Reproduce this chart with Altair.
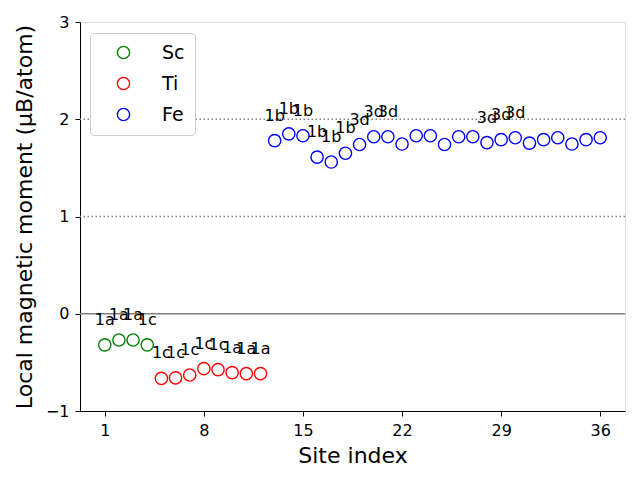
import altair as alt
import pandas as pd

sites = list(range(1, 37))
elements = ["Sc"] * 4 + ["Ti"] * 8 + ["Fe"] * 24
moments = [
    -0.32, -0.27, -0.27, -0.32,
    -0.665, -0.66, -0.63, -0.565, -0.575, -0.605, -0.615, -0.615,
    1.78, 1.85, 1.83, 1.61, 1.56, 1.65, 1.74, 1.82, 1.82, 1.745, 1.83, 1.83,
    1.74, 1.82, 1.82, 1.76, 1.79, 1.81, 1.755, 1.79, 1.81, 1.745, 1.79, 1.81,
]
labels = [
    "1a", "1a", "1a", "1c",
    "1c", "1c", "1c", "1c", "1c", "1a", "1a", "1a",
    "1b", "1b", "1b", "1b", "1b", "1b", "3d", "3d", "3d", "", "", "",
    "", "", "", "3d", "3d", "3d", "", "", "", "", "", "",
]
x_ticks = [1, 8, 15, 22, 29, 36]
y_ticks = [-1, 0, 1, 2, 3]
legend_order = ["Sc", "Ti", "Fe"]
legend_colors = ["green", "red", "blue"]
dotted_levels = [1, 2]
zero_level = [0]

df = pd.DataFrame({"site": sites, "moment": moments, "element": elements, "label": labels})
FONT = "DejaVu Sans"

x_scale = alt.Scale(domain=[-0.75, 37.75], nice=False, zero=False)
y_scale = alt.Scale(domain=[-1, 3], nice=False, zero=False)

x_enc = alt.X("site:Q", scale=x_scale,
              axis=alt.Axis(values=x_ticks, title="Site index", grid=False, format="d",
                            tickSize=5, labelPadding=6, titlePadding=7,
                            labelFontSize=16, titleFontSize=22, labelFont=FONT,
                            titleFont=FONT, titleFontWeight="normal",
                            domainColor="black", tickColor="black", labelColor="black",
                            titleColor="black", labelFlush=False))
y_enc = alt.Y("moment:Q", scale=y_scale,
              axis=alt.Axis(values=y_ticks, title="Local magnetic moment (μB/atom)",
                            grid=False, format="d", tickSize=5, labelPadding=6, titlePadding=9,
                            labelFontSize=16, titleFontSize=22, labelFont=FONT,
                            titleFont=FONT, titleFontWeight="normal",
                            domainColor="black", tickColor="black", labelColor="black",
                            titleColor="black", labelFlush=False))

dotted = alt.Chart(pd.DataFrame({"y": dotted_levels})).mark_rule(
    color="gray", strokeWidth=1.5, strokeDash=[1.5, 2.5]
).encode(y=alt.Y("y:Q", scale=y_scale))

zero = alt.Chart(pd.DataFrame({"y": zero_level})).mark_rule(
    color="gray", strokeWidth=1.5
).encode(y=alt.Y("y:Q", scale=y_scale))

points = alt.Chart(df).mark_point(
    shape="circle", filled=False, size=150, strokeWidth=1.4, opacity=1
).encode(
    x=x_enc,
    y=y_enc,
    color=alt.Color("element:N",
                    scale=alt.Scale(domain=legend_order, range=legend_colors),
                    legend=alt.Legend(title=None, orient="none", legendX=10, legendY=11,
                                      labelFontSize=19, labelFont=FONT, labelColor="black",
                                      symbolSize=150, symbolStrokeWidth=1.4,
                                      symbolType="circle", padding=10, symbolOffset=14,
                                      labelOffset=29, rowPadding=11,
                                      strokeColor="#cccccc", fillColor="white",
                                      cornerRadius=4)),
)

texts = alt.Chart(df).mark_text(
    fontSize=16, font=FONT, color="black", dy=-20, baseline="alphabetic", align="center"
).encode(
    x=alt.X("site:Q", scale=x_scale),
    y=alt.Y("moment:Q", scale=y_scale),
    text="label:N",
)

chart = alt.layer(dotted, zero, points, texts).properties(
    width=545, height=389,
    autosize=alt.AutoSizeParams(type="none"),
    padding={"left": 72, "top": 14, "right": 7, "bottom": 61},
).configure_view(stroke="black", strokeWidth=1.1).configure(background="white")

chart.save("out.html", embed_options={"renderer": "svg", "actions": False})
